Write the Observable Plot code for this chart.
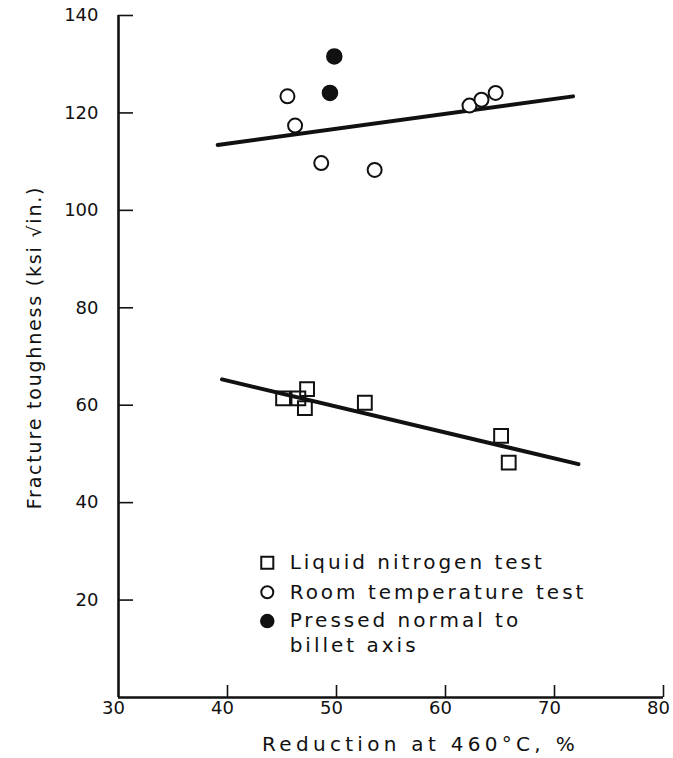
<!DOCTYPE html>
<html><head><meta charset="utf-8">
<script src="https://cdn.jsdelivr.net/npm/d3@7"></script>
<script src="https://cdn.jsdelivr.net/npm/@observablehq/plot@0.6"></script>
<style>body{margin:0;background:#fff} #chart{width:673px;height:758px}</style>
</head><body><div id="chart"></div>
<script>
// Liquid nitrogen test (open squares)
const nitrogenX = [45.1, 46.5, 47.3, 47.1, 52.6, 65.1, 65.8];
const nitrogenY = [61.4, 61.4, 63.3, 59.4, 60.5, 53.7, 48.2];
// Room temperature test (open circles)
const roomX = [45.5, 46.2, 48.6, 53.5, 62.2, 63.3, 64.6];
const roomY = [123.4, 117.4, 109.7, 108.3, 121.5, 122.7, 124.1];
// Pressed normal to billet axis (filled circles)
const pressedX = [49.8, 49.4];
const pressedY = [131.6, 124.1];
// Fitted lines
const roomFitX = [39.1, 71.7];
const roomFitY = [113.4, 123.4];
const nitrogenFitX = [39.5, 72.2];
const nitrogenFitY = [65.3, 47.9];
// Ticks and labels
const xTicks = [30, 40, 50, 60, 70, 80];
const yTicks = [20, 40, 60, 80, 100, 120, 140];
const xTitle = "Reduction at 460°C, %";
const yTitle = "Fracture toughness (ksi \u221Ain.)";
const legendLabels = ["Liquid nitrogen test", "Room temperature test", "Pressed normal to", "billet axis"];
const legendSymbols = ["square", "circle", "circle", null];
const legendFilled = [false, false, true, false];
const legendXSym = 43.65, legendXText = 45.7;
const legendYs = [27.65, 21.6, 15.7, 10.7];

const zip = (xs, ys) => xs.map((x, i) => ({x, y: ys[i]}));
const nitrogen = zip(nitrogenX, nitrogenY);
const room = zip(roomX, roomY);
const pressed = zip(pressedX, pressedY);
const legend = legendLabels.map((label, i) => ({label, symbol: legendSymbols[i], filled: legendFilled[i], x: legendXSym, tx: legendXText, y: legendYs[i]}));

const font = "DejaVu Sans";
const plot = Plot.plot({
  width: 673, height: 758,
  marginTop: 15, marginLeft: 118, marginRight: 10, marginBottom: 61,
  style: {fontFamily: font, fontSize: "18px", color: "#111", background: "#fff"},
  x: {domain: [30, 80]},
  y: {domain: [0, 140]},
  marks: [
    Plot.axisX(xTicks.slice(1), {tickSize: -12, strokeWidth: 1.6, text: null, label: null}),
    Plot.axisX(xTicks, {tickSize: 0, tickPadding: 4, dx: -5, label: null, fontSize: 18}),
    Plot.axisY(yTicks, {tickSize: -15, strokeWidth: 1.6, text: null, label: null}),
    Plot.axisY(yTicks, {tickSize: 0, tickPadding: 20, label: null, fontSize: 18}),
    Plot.ruleX([30], {strokeWidth: 2.6, stroke: "#111"}),
    Plot.ruleY([0], {strokeWidth: 2.6, stroke: "#111"}),
    Plot.line(zip(roomFitX, roomFitY), {x: "x", y: "y", stroke: "#111", strokeWidth: 4}),
    Plot.line(zip(nitrogenFitX, nitrogenFitY), {x: "x", y: "y", stroke: "#111", strokeWidth: 4}),
    Plot.dot(room, {x: "x", y: "y", r: 7, stroke: "#111", fill: "#fff", strokeWidth: 2}),
    Plot.dot(pressed, {x: "x", y: "y", r: 7.5, fill: "#111", stroke: "#111"}),
    Plot.dot(nitrogen, {x: "x", y: "y", symbol: "square", r: 7.8, stroke: "#111", fill: "none", strokeWidth: 2}),
    Plot.dot(legend.filter(d => d.symbol === "square"), {x: "x", y: "y", symbol: "square", r: 6.8, stroke: "#111", fill: "#fff", strokeWidth: 2}),
    Plot.dot(legend.filter(d => d.symbol === "circle" && !d.filled), {x: "x", y: "y", r: 6, stroke: "#111", fill: "#fff", strokeWidth: 2}),
    Plot.dot(legend.filter(d => d.filled), {x: "x", y: "y", r: 6.5, stroke: "#111", fill: "#111"}),
    Plot.text(legend, {x: "tx", y: "y", text: "label", textAnchor: "start", fontSize: 20, fill: "#111"}),
    Plot.text([yTitle], {frameAnchor: "left", textAnchor: "middle", lineAnchor: "middle", dx: -83.5, dy: -9, rotate: -90, fontSize: 19, fill: "#111"}),
    Plot.text([xTitle], {frameAnchor: "bottom", textAnchor: "middle", lineAnchor: "middle", dx: 29.5, dy: 47, fontSize: 20, fill: "#111"})
  ]
});
document.getElementById("chart").appendChild(plot);
const svg = d3.select(plot);
const spacing = (labels, px) => svg.selectAll("text").filter(function() { return labels.includes(this.textContent); }).style("letter-spacing", px + "px");
spacing(legendLabels, 3);
spacing([xTitle], 4.3);
spacing([yTitle], 1.8);
</script>
</body></html>
